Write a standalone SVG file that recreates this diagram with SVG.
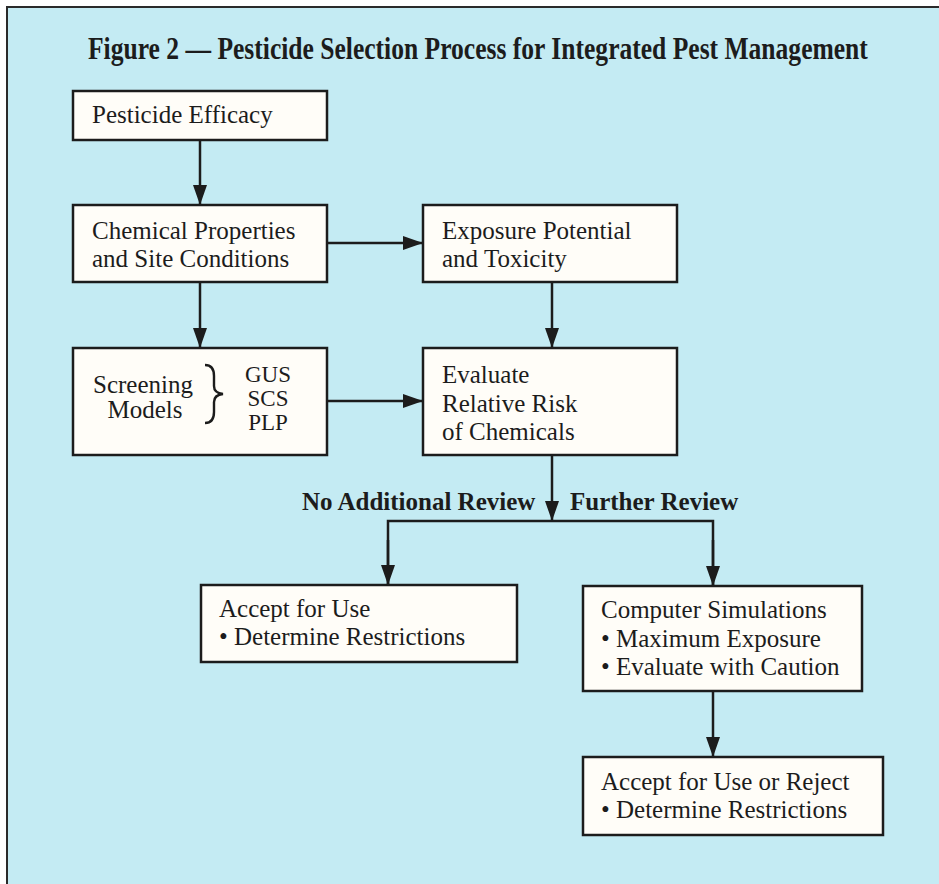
<svg xmlns="http://www.w3.org/2000/svg" width="939" height="884" viewBox="0 0 939 884">
<style>
.box{fill:#fffdf8;stroke:#1c1c1c;stroke-width:2.5}
.t{font-family:"Liberation Serif","Times New Roman",serif;font-size:25px;fill:#1c1c1c}
.s{font-family:"Liberation Serif","Times New Roman",serif;font-size:23px;fill:#1c1c1c}
.b{font-family:"Liberation Serif","Times New Roman",serif;font-size:25px;font-weight:bold;fill:#1c1c1c}
.title{font-family:"Liberation Serif","Times New Roman",serif;font-size:31px;font-weight:bold;fill:#1c1c1c}
.ln{stroke:#1c1c1c;stroke-width:2.5;fill:none}
</style>
<defs>
<marker id="ah" viewBox="0 0 20 14" refX="20" refY="7" markerWidth="20" markerHeight="14" markerUnits="userSpaceOnUse" orient="auto">
<path d="M0,0 L20,7 L0,14 Z" fill="#1c1c1c"/>
</marker>
</defs>
<rect x="0" y="0" width="939" height="884" fill="#ffffff"/>
<rect x="7" y="7" width="940" height="890" fill="#c4ebf3" stroke="#2a2a2a" stroke-width="2"/>
<g transform="translate(88 59) scale(0.82 1)">
<text class="title" x="0" y="0" textLength="951" lengthAdjust="spacingAndGlyphs">Figure 2 — Pesticide Selection Process for Integrated Pest Management</text>
</g>

<g id="connectors">
<line class="ln" x1="200" y1="140" x2="200" y2="205" marker-end="url(#ah)"/>
<line class="ln" x1="200" y1="282" x2="200" y2="348" marker-end="url(#ah)"/>
<line class="ln" x1="327" y1="243" x2="423" y2="243" marker-end="url(#ah)"/>
<line class="ln" x1="327" y1="401" x2="423" y2="401" marker-end="url(#ah)"/>
<line class="ln" x1="552" y1="282" x2="552" y2="348" marker-end="url(#ah)"/>
<line class="ln" x1="552" y1="455" x2="552" y2="521" marker-end="url(#ah)"/>
<polyline class="ln" points="388,585 388,521 713,521 713,586"/>
<line class="ln" x1="388" y1="540" x2="388" y2="585" marker-end="url(#ah)"/>
<line class="ln" x1="713" y1="540" x2="713" y2="586" marker-end="url(#ah)"/>
<line class="ln" x1="713" y1="691" x2="713" y2="757" marker-end="url(#ah)"/>
<text class="b" x="302" y="510">No Additional Review</text>
<text class="b" x="570" y="510">Further Review</text>
</g>

<g id="efficacy">
<rect class="box" x="73" y="91" width="254" height="49"/>
<text class="t" x="92" y="123">Pesticide Efficacy</text>
</g>
<g id="chemical">
<rect class="box" x="73" y="205" width="254" height="77"/>
<text class="t" x="92" y="239">Chemical Properties</text>
<text class="t" x="92" y="267">and Site Conditions</text>
</g>
<g id="exposure">
<rect class="box" x="423" y="205" width="254" height="77"/>
<text class="t" x="442" y="239">Exposure Potential</text>
<text class="t" x="442" y="267">and Toxicity</text>
</g>
<g id="screening">
<rect class="box" x="73" y="348" width="254" height="107"/>
<text class="t" x="143" y="393" text-anchor="middle">Screening</text>
<text class="t" x="145" y="418" text-anchor="middle">Models</text>
<path d="M205,365 Q214,365 214,376 L214,386 Q214,393 223,394 Q214,395 214,402 L214,412 Q214,423 205,423" fill="none" stroke="#1c1c1c" stroke-width="2.4"/>
<text class="s" x="268" y="382" text-anchor="middle">GUS</text>
<text class="s" x="268" y="406" text-anchor="middle">SCS</text>
<text class="s" x="268" y="430" text-anchor="middle">PLP</text>
</g>
<g id="evaluate">
<rect class="box" x="423" y="348" width="254" height="107"/>
<text class="t" x="442" y="383">Evaluate</text>
<text class="t" x="442" y="412">Relative Risk</text>
<text class="t" x="442" y="440">of Chemicals</text>
</g>
<g id="accept">
<rect class="box" x="201" y="585" width="316" height="77"/>
<text class="t" x="219" y="617">Accept for Use</text>
<text class="t" x="219" y="645">• Determine Restrictions</text>
</g>
<g id="simulations">
<rect class="box" x="583" y="586" width="279" height="105"/>
<text class="t" x="601" y="618">Computer Simulations</text>
<text class="t" x="601" y="647">• Maximum Exposure</text>
<text class="t" x="601" y="675">• Evaluate with Caution</text>
</g>
<g id="final">
<rect class="box" x="583" y="757" width="300" height="78"/>
<text class="t" x="601" y="790">Accept for Use or Reject</text>
<text class="t" x="601" y="818">• Determine Restrictions</text>
</g>
</svg>
